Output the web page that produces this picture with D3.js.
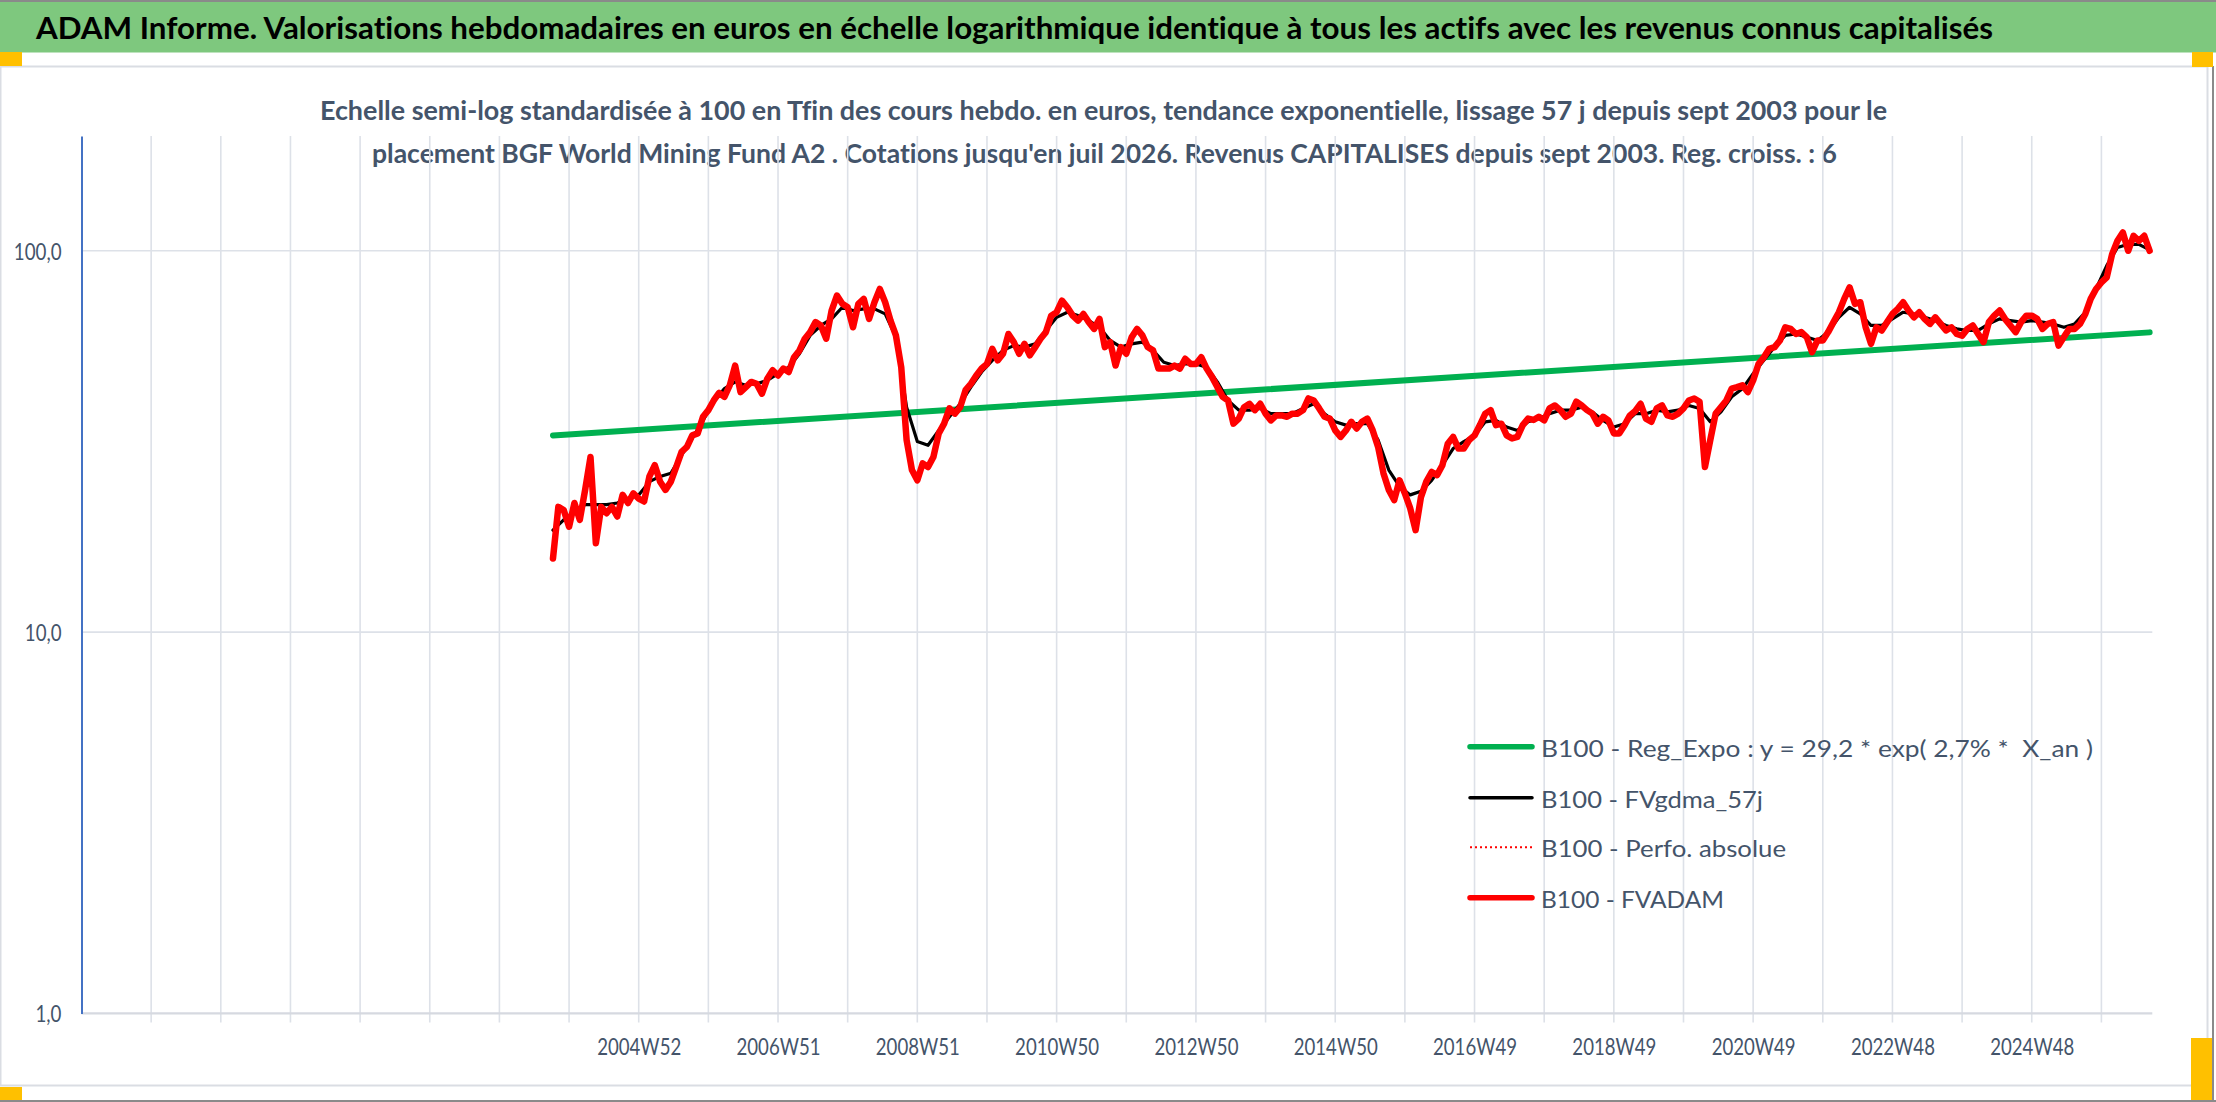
<!DOCTYPE html>
<html>
<head>
<meta charset="utf-8">
<script src="https://cdn.jsdelivr.net/npm/d3@7"></script>
<style>
  body { margin: 0; background: #fff; }
  svg { display: block; }
  text { font-family: Lato, "Open Sans", sans-serif; font-variant-ligatures: none; font-feature-settings: "liga" 0, "clig" 0, "dlig" 0; }
</style>
</head>
<body>
<div id="chart"></div>
<script>
// week categories: index 0 = first category of the Excel axis, one per week
const firstWeek = 352; // first quotation (sept/oct 2003)
const lastCategory = 1546;
const weekLabels = ["2004W52", "2006W51", "2008W51", "2010W50", "2012W50", "2014W50",
  "2016W49", "2018W49", "2020W49", "2022W48", "2024W48"];
const firstLabelWeek = 416;
const yTicks = [1, 10, 100];

// B100 - FVADAM, one value every 4 weeks
const fvadam = [
  15.6, 21.3, 20.9, 18.9, 21.8, 19.7, 23.6, 28.8, 17.1, 21.3,
  20.5, 21.3, 20.1, 22.9, 21.8, 23.1, 22.4, 22.0, 25.6, 27.4,
  24.8, 23.6, 24.8, 27.1, 29.7, 30.6, 32.8, 33.2, 36.7, 38.2,
  40.5, 42.4, 41.4, 44.4, 50.0, 42.6, 43.9, 45.3, 44.8, 42.2,
  46.2, 48.6, 47.1, 49.1, 48.1, 52.6, 54.8, 58.8, 61.2, 65.0,
  63.7, 58.8, 69.7, 76.3, 72.6, 71.1, 63.0, 72.6, 74.8, 66.3,
  73.3, 79.4, 73.3, 65.6, 60.0, 49.5, 31.9, 26.6, 25.0, 27.7,
  27.1, 28.8, 33.2,
  35.2, 38.6, 37.4, 38.9, 43.1, 44.8, 47.1, 49.1, 50.5, 55.3,
  51.6, 53.7, 60.5, 57.6, 53.7, 57.0, 53.2, 55.9, 58.8, 61.2,
  67.6, 69.0, 74.0, 71.1, 67.6, 65.6, 68.3, 65.0, 62.4, 66.3,
  55.9, 57.6, 50.0, 55.9, 53.7, 59.3, 62.4, 60.0, 55.9, 54.8,
  49.1, 49.1, 49.1, 50.0, 49.1, 52.1, 50.5, 50.5, 52.6, 49.1,
  46.7, 43.9, 41.4, 40.5, 35.2, 36.3, 38.9, 39.7, 38.2, 39.7,
  37.4, 35.9, 37.0, 37.0, 36.7, 37.4, 37.4, 38.2, 41.0, 40.5,
  38.6, 36.7,
  36.3, 33.8, 32.5, 33.8, 35.6, 34.2, 35.6, 36.3, 33.8, 30.6,
  26.1, 23.6, 22.2, 25.0, 23.1, 21.1, 18.5, 22.6, 24.8, 26.3,
  25.8, 27.4, 31.2, 32.5, 30.3, 30.3, 31.9, 32.8, 34.9, 37.4,
  38.2, 34.9, 35.2, 32.8, 32.2, 32.5, 34.9, 36.3, 36.0, 36.7,
  35.9, 38.6, 39.3, 38.2, 36.7, 37.4, 40.2, 39.3, 38.2, 37.4,
  35.2, 36.7, 35.9, 33.2, 33.2, 34.9, 37.0, 38.0, 39.7, 36.3,
  35.6, 38.6, 39.3, 37.0, 36.7, 37.4, 38.6, 40.5, 41.0, 40.2,
  27.1, 31.9, 37.4,
  38.9, 40.5, 43.5, 43.9, 44.4, 42.6, 45.7, 50.5, 52.6, 55.3,
  55.9, 58.2, 63.0, 62.4, 60.5, 61.2, 59.4, 54.2, 58.2, 58.2,
  61.2, 65.0, 69.0, 74.8, 80.2, 72.6, 73.3, 63.0, 57.0, 63.0,
  61.8, 65.0, 68.3, 70.4, 73.3, 69.7, 66.9, 69.0, 66.3, 64.3,
  66.9, 64.3, 61.8, 63.0, 60.5, 59.9, 62.4, 63.7, 60.5, 57.6,
  65.0, 67.6, 69.7, 66.3, 63.7, 61.2, 65.0, 67.6, 67.6, 66.3,
  62.4, 64.3, 65.0, 56.4, 59.4, 62.4, 62.4, 64.3, 68.3, 74.8,
  79.4, 82.6, 85.2, 98.0, 106.2, 111.7, 100.0, 109.5, 106.2, 109.5,
  100.0
];
const fvadamStep = 4;

// B100 - FVgdma_57j, one value every 8 weeks
const fvgdma = [
  18.5, 19.7, 20.7, 21.6, 21.6, 21.6, 21.8, 22.4, 22.9, 24.8,
  25.6, 26.1, 29.1, 32.2, 35.9, 40.2, 43.5, 45.3, 44.4, 44.8,
  45.7, 47.6, 49.5, 53.7, 60.0, 63.7, 66.3, 71.1, 69.7, 70.4,
  70.4, 68.3, 59.4, 38.9, 31.6, 30.9, 33.8,
  36.7, 39.7, 43.9, 48.1, 51.6, 54.8, 56.4, 55.9, 57.0, 61.8,
  66.9, 69.0, 67.6, 65.6, 63.0, 58.2, 55.9, 57.0, 57.6, 54.8,
  51.0, 50.0, 50.5, 50.5, 49.5, 45.3, 40.5, 38.2, 38.2, 38.6,
  37.4, 37.4, 37.4, 38.6, 39.7, 37.4,
  35.6, 34.9, 35.2, 35.2, 31.9, 26.6, 24.1, 22.9, 23.4, 25.0,
  27.4, 30.3, 31.6, 32.8, 35.6, 35.9, 34.5, 33.8, 35.6, 36.3,
  37.4, 38.2, 38.2, 38.9, 37.8, 35.9, 34.5, 35.2, 37.4, 37.4,
  38.2, 37.8, 38.2, 39.3, 38.6, 35.6,
  37.8, 41.4, 43.5, 47.6, 51.6, 55.9, 60.0, 60.5, 59.4, 58.2,
  61.2, 66.9, 71.1, 68.3, 63.7, 63.7, 66.3, 69.0, 68.3, 66.9,
  65.6, 63.7, 62.4, 61.8, 61.8, 64.3, 66.3, 65.6, 65.0, 65.6,
  65.0, 64.3, 63.0, 64.3, 69.0, 79.4, 91.4, 102, 104, 104,
  100.5
];
const fvgdmaStep = 8;

// B100 - Reg_Expo, value at first and last quotation
const regExpo = [32.8, 61.1];

const legendNames = [
  "B100 - Reg_Expo : y = 29,2 * exp( 2,7% *  X_an )",
  "B100 - FVgdma_57j",
  "B100 - Perfo. absolue",
  "B100 - FVADAM"
];

const width = 2216, height = 1102;
const plot = { left: 81.5, right: 2152.3, top: 136, bottom: 1013.4 };
const textColor = "#44546a", gridColor = "#dde1e8";

let svg = d3.select("#chart").append("svg")
  .attr("width", width).attr("height", height);

// frame, title band and excel handles
svg.append("rect").attr("x", 0).attr("y", 0).attr("width", width).attr("height", height)
  .attr("fill", "#fff");
svg.append("rect").attr("x", 0).attr("y", 1).attr("width", width).attr("height", 51.5)
  .attr("fill", "#7ec87e");
svg.append("line").attr("x1", 0).attr("x2", width).attr("y1", 1).attr("y2", 1)
  .attr("stroke", "#8a8a8a").attr("stroke-width", 2);
svg.append("rect").attr("x", 0.5).attr("y", 66.5).attr("width", 2207).attr("height", 1019)
  .attr("fill", "#fff").attr("stroke", "#dadde3").attr("stroke-width", 2);
svg.append("line").attr("x1", 2213).attr("x2", 2213).attr("y1", 66).attr("y2", height)
  .attr("stroke", "#8a8a8a").attr("stroke-width", 2);
svg.append("line").attr("x1", 0).attr("x2", width).attr("y1", 1101).attr("y2", 1101)
  .attr("stroke", "#8a8a8a").attr("stroke-width", 2);
[[0, 52, 22, 14], [2192, 52, 21, 15], [2191, 1038, 21, 62], [0, 1087, 22, 13]]
  .forEach((r) => {
    svg.append("rect").attr("x", r[0]).attr("y", r[1]).attr("width", r[2]).attr("height", r[3])
      .attr("fill", "#ffc000");
  });

svg.append("text").attr("x", 36).attr("y", 39)
  .attr("textLength", 1957).attr("lengthAdjust", "spacingAndGlyphs")
  .style("font-size", "30px").style("font-weight", "bold").attr("fill", "#000")
  .text("ADAM Informe. Valorisations hebdomadaires en euros en échelle logarithmique identique à tous les actifs avec les revenus connus capitalisés");

svg.append("text").attr("x", 320).attr("y", 120)
  .attr("textLength", 1567).attr("lengthAdjust", "spacingAndGlyphs")
  .style("font-size", "27px").style("font-weight", "bold").attr("fill", textColor)
  .text("Echelle semi-log standardisée à 100 en Tfin des cours hebdo. en euros, tendance exponentielle, lissage 57 j depuis sept 2003 pour le");
svg.append("text").attr("x", 372).attr("y", 163)
  .attr("textLength", 1465).attr("lengthAdjust", "spacingAndGlyphs")
  .style("font-size", "27px").style("font-weight", "bold").attr("fill", textColor)
  .text("placement BGF World Mining Fund A2 . Cotations jusqu'en juil 2026. Revenus CAPITALISES depuis sept 2003. Reg. croiss. : 6");

// scales
let x = d3.scaleLinear().domain([0, lastCategory]).range([plot.left, plot.right]);
let y = d3.scaleLog().domain([1, 200]).range([plot.bottom, plot.top]);

// vertical gridlines every 52 weeks, running a little under the axis as ticks
let gridWeeks = d3.range(52, lastCategory, 52);
svg.append("g").selectAll("line").data(gridWeeks).join("line")
  .attr("x1", (d) => x(d)).attr("x2", (d) => x(d))
  .attr("y1", plot.top).attr("y2", plot.bottom + 9)
  .attr("stroke", gridColor).attr("stroke-width", 1.6);

// horizontal gridlines
svg.append("g").selectAll("line").data(yTicks.filter((d) => d > 1)).join("line")
  .attr("x1", plot.left).attr("x2", plot.right)
  .attr("y1", (d) => y(d)).attr("y2", (d) => y(d))
  .attr("stroke", gridColor).attr("stroke-width", 1.6);

// x axis line
svg.append("line").attr("x1", plot.left).attr("x2", plot.right)
  .attr("y1", plot.bottom).attr("y2", plot.bottom)
  .attr("stroke", "#d6d9e0").attr("stroke-width", 2.2);

// x labels
let labelWeeks = weekLabels.map((d, i) => firstLabelWeek + i * 104);
let xAxis = svg.append("g").attr("transform", `translate(0,${plot.bottom})`)
  .call(d3.axisBottom(x).tickValues(labelWeeks)
    .tickFormat((d, i) => weekLabels[i]).tickSize(0).tickPadding(0));
xAxis.select(".domain").remove();
xAxis.selectAll("text")
  .attr("y", 41.6).attr("dy", null)
  .attr("textLength", 84).attr("lengthAdjust", "spacingAndGlyphs")
  .style("font-size", "23px").style("font-family", "Lato, sans-serif")
  .attr("fill", textColor);

// y axis
let yAxis = svg.append("g").attr("transform", `translate(${plot.left},0)`)
  .call(d3.axisLeft(y).tickValues(yTicks)
    .tickFormat((d) => d.toFixed(1).replace(".", ","))
    .tickSize(0).tickSizeOuter(0).tickPadding(20));
yAxis.select(".domain").attr("stroke", "#4472c4").attr("stroke-width", 2);
yAxis.selectAll("text")
  .attr("dy", "0.36em")
  .attr("textLength", (d) => [26, 36.7, 47.7][yTicks.indexOf(d)])
  .attr("lengthAdjust", "spacingAndGlyphs")
  .style("font-size", "23px").style("font-family", "Lato, sans-serif")
  .attr("fill", textColor);

// series
let line = d3.line().x((d) => x(d.w)).y((d) => y(d.v));
let redData = fvadam.map((v, i) => ({ w: firstWeek + i * fvadamStep, v: v }));
let blackData = fvgdma.map((v, i) => ({ w: firstWeek + i * fvgdmaStep, v: v }));
let lastWeek = firstWeek + (fvadam.length - 1) * fvadamStep;
let greenData = [{ w: firstWeek, v: regExpo[0] }, { w: lastWeek, v: regExpo[1] }];

let series = svg.append("g").attr("fill", "none")
  .attr("stroke-linejoin", "round").attr("stroke-linecap", "round");
series.append("path").datum(greenData).attr("d", line)
  .attr("stroke", "#00b050").attr("stroke-width", 6);
series.append("path").datum(blackData).attr("d", line)
  .attr("stroke", "#000").attr("stroke-width", 3.2);
series.append("path").datum(redData).attr("d", line)
  .attr("stroke", "#ff0000").attr("stroke-width", 2).attr("stroke-dasharray", "2,3");
series.append("path").datum(redData).attr("d", line)
  .attr("stroke", "#ff0000").attr("stroke-width", 6.5);

// legend
let legendStyles = [
  { color: "#00b050", w: 5.5, dash: null },
  { color: "#000", w: 3.5, dash: null },
  { color: "#ff0000", w: 2, dash: "2,3" },
  { color: "#ff0000", w: 5.5, dash: null }
];
let legendRows = [746.7, 797.7, 847.3, 897.7];
let legendWidths = [552, 222, 245, 183];
let legend = svg.append("g");
legendNames.forEach((name, i) => {
  let st = legendStyles[i];
  legend.append("line")
    .attr("x1", 1470).attr("x2", 1532)
    .attr("y1", legendRows[i]).attr("y2", legendRows[i])
    .attr("stroke", st.color).attr("stroke-width", st.w)
    .attr("stroke-linecap", st.dash ? "butt" : "round")
    .attr("stroke-dasharray", st.dash);
  legend.append("text")
    .attr("x", 1541).attr("y", legendRows[i] + 10)
    .attr("textLength", legendWidths[i]).attr("lengthAdjust", "spacingAndGlyphs")
    .style("font-size", "24px").attr("fill", textColor)
    .style("white-space", "pre")
    .text(name);
});
</script>
</body>
</html>
